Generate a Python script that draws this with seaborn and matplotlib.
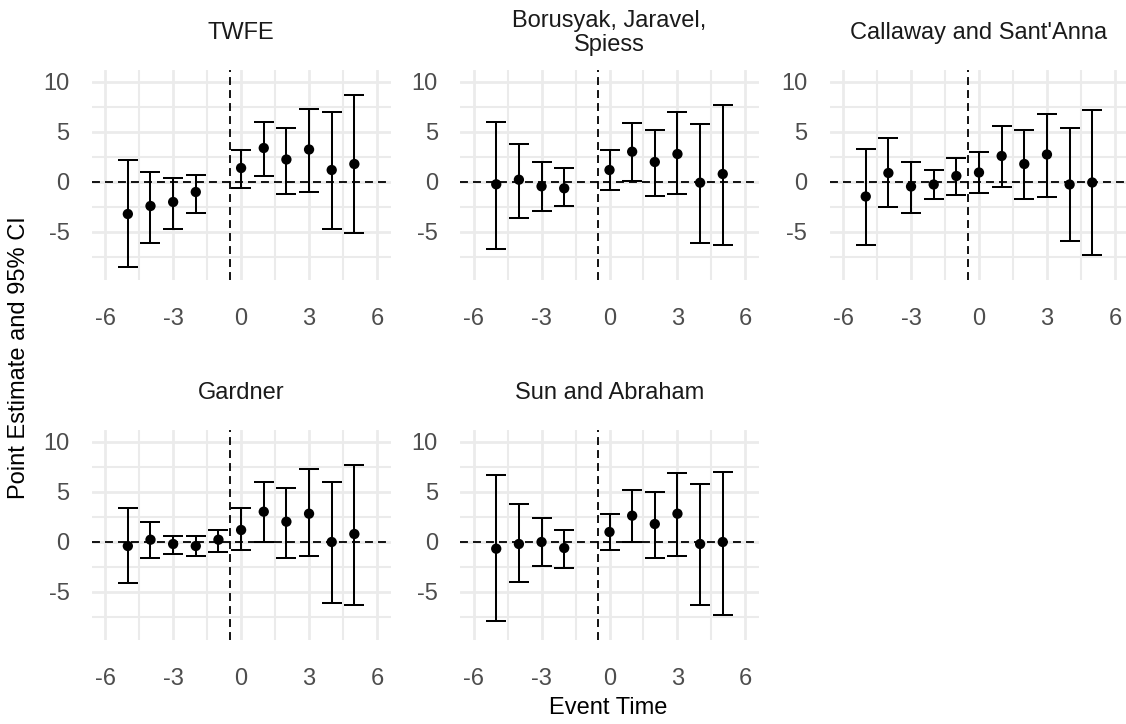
import numpy as np
import pandas as pd
import matplotlib
matplotlib.use("Agg")
import matplotlib.pyplot as plt
import seaborn as sns

# ---------------- data ----------------
titles = ["TWFE", "Borusyak, Jaravel,\nSpiess", "Callaway and Sant'Anna",
          "Gardner", "Sun and Abraham"]

times_short = [-5, -4, -3, -2, 0, 1, 2, 3, 4, 5]
times_full = [-5, -4, -3, -2, -1, 0, 1, 2, 3, 4, 5]

twfe_est = [-3.2, -2.4, -2.0, -1.0, 1.4, 3.4, 2.25, 3.25, 1.2, 1.8]
twfe_lo = [-8.5, -6.1, -4.65, -3.05, -0.6, 0.6, -1.2, -1.0, -4.65, -5.05]
twfe_hi = [2.25, 1.0, 0.4, 0.75, 3.2, 6.05, 5.45, 7.3, 7.05, 8.7]

bjs_est = [-0.23, 0.23, -0.43, -0.63, 1.2, 3.03, 2.0, 2.8, -0.07, 0.8]
bjs_lo = [-6.7, -3.63, -2.87, -2.43, -0.83, 0.13, -1.43, -1.23, -6.07, -6.27]
bjs_hi = [6.03, 3.8, 2.0, 1.4, 3.2, 5.87, 5.23, 7.03, 5.83, 7.67]

cs_est = [-1.45, 0.9, -0.45, -0.25, 0.6, 0.95, 2.6, 1.8, 2.75, -0.25, -0.05]
cs_lo = [-6.25, -2.45, -3.05, -1.65, -1.25, -1.05, -0.45, -1.65, -1.45, -5.85, -7.25]
cs_hi = [3.35, 4.4, 2.0, 1.2, 2.4, 3.0, 5.65, 5.25, 6.85, 5.45, 7.25]

gard_est = [-0.4, 0.23, -0.2, -0.4, 0.23, 1.2, 3.03, 2.03, 2.83, 0.0, 0.8]
gard_lo = [-4.07, -1.6, -1.2, -1.43, -1.0, -0.8, 0.0, -1.6, -1.4, -6.07, -6.27]
gard_hi = [3.43, 2.03, 0.63, 0.57, 1.23, 3.43, 6.03, 5.43, 7.27, 6.03, 7.73]

sa_est = [-0.67, -0.2, 0.0, -0.6, 1.0, 2.63, 1.8, 2.83, -0.2, 0.0]
sa_lo = [-7.87, -4.03, -2.4, -2.6, -0.8, 0.0, -1.6, -1.4, -6.27, -7.27]
sa_hi = [6.7, 3.83, 2.4, 1.23, 2.83, 5.23, 5.03, 6.9, 5.83, 7.03]

x_ticks = [-6, -3, 0, 3, 6]
y_ticks = [-5, 0, 5, 10]
y_tick_labels = ["-5", "0", "5", "10"]

series = [
    (times_short, twfe_est, twfe_lo, twfe_hi),
    (times_short, bjs_est, bjs_lo, bjs_hi),
    (times_full, cs_est, cs_lo, cs_hi),
    (times_full, gard_est, gard_lo, gard_hi),
    (times_short, sa_est, sa_lo, sa_hi),
]

# ---------------- style ----------------
sns.set_theme(style="white")
plt.rcParams["font.family"] = ["Liberation Sans", "DejaVu Sans"]
plt.rcParams["axes.unicode_minus"] = False

W, H = 1126, 724
fig = plt.figure(figsize=(W / 100, H / 100), dpi=100)

# panel boxes in pixels: left, top, right, bottom
boxes = [
    (91.6, 70, 390.6, 280),
    (460, 70, 759, 280),
    (829.5, 70, 1126, 280),
    (91.6, 430, 390.6, 640),
    (460, 430, 759, 640),
]
px_per_unit = 299 / 13.2

FS = 17
grid_col = "#EBEBEB"
tick_col = "#4D4D4D"
dash = (0, (4.4, 2.8))

for (l, t, r, b), title, (tt, est, lo, hi) in zip(boxes, titles, series):
    ax = fig.add_axes([l / W, 1 - b / H, (r - l) / W, (b - t) / H])
    df = pd.DataFrame({"t": tt, "est": est, "lo": lo, "hi": hi})
    xmax = -6.6 + (r - l) / px_per_unit
    ax.set_xlim(-6.6, xmax)
    ax.set_ylim(-9.8, 11.2)

    ax.set_xticks(x_ticks)
    ax.set_xticks([-4.5, -1.5, 1.5, 4.5], minor=True)
    ax.set_yticks(y_ticks)
    ax.set_yticks([-7.5, -2.5, 2.5, 7.5], minor=True)
    ax.set_yticklabels(y_tick_labels)
    ax.grid(which="major", color=grid_col, lw=2.0, zorder=0)
    ax.grid(which="minor", color=grid_col, lw=1.5, zorder=0)
    ax.set_axisbelow(True)
    for s in ax.spines.values():
        s.set_visible(False)
    ax.tick_params(axis="both", which="both", length=0, labelsize=FS,
                   labelcolor=tick_col)
    ax.tick_params(axis="x", pad=20.5)
    ax.tick_params(axis="y", pad=16)

    ax.axhline(0, color="black", lw=1.3, ls=dash, zorder=2)
    ax.axvline(-0.5, color="black", lw=1.3, ls=dash, zorder=2)

    ax.errorbar(df["t"], df["est"],
                yerr=[df["est"] - df["lo"], df["hi"] - df["est"]],
                fmt="none", ecolor="black", elinewidth=1.45, capsize=7,
                capthick=1.45, zorder=3)
    sns.scatterplot(data=df, x="t", y="est", ax=ax, color="black", s=55,
                    edgecolor="none", zorder=4, legend=False)
    ax.set_xlabel("")
    ax.set_ylabel("")

    cy = 33 if t < 100 else 393
    cx = (l + r) / 2 if r < 1120 else l + 299 / 2
    fig.text(cx / W, 1 - cy / H, title, ha="center", va="center", fontsize=FS,
             color="#1A1A1A", linespacing=1.1)

fig.text(608 / W, 1 - 708 / H, "Event Time", ha="center", va="center",
         fontsize=FS, color="black")
fig.text(19 / W, 1 - 358 / H, "Point Estimate and 95% CI", ha="center",
         va="center", rotation=90, fontsize=FS, color="black")

fig.savefig("out.png", dpi=100)
